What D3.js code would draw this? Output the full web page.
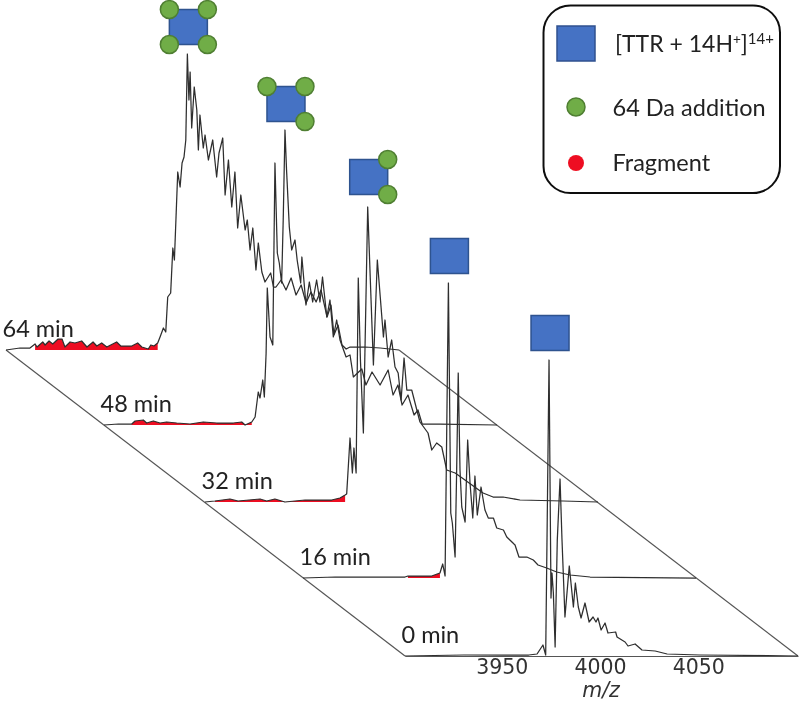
<!DOCTYPE html>
<html>
<head>
<meta charset="utf-8">
<script src="https://cdn.jsdelivr.net/npm/d3@7"></script>
<style>
  html, body { margin: 0; padding: 0; background: #fff; }
  svg { display: block; }
</style>
</head>
<body>
<div id="chart"></div>
<script>
// spectra as [m/z, intensity], intensity in arbitrary units
const times = [0, 16, 32, 48, 64];
const tickLabels = [3950, 4000, 4050];

const spectrum0 = [[3900,0],[3930,1],[3950,1],[3963,1],[3967.2,2],[3970.2,11],[3971.6,1],[3973.3,296],[3974.3,58],[3974.8,83],[3975.5,63],[3976.4,9],[3977.5,116],[3978.9,177],[3979.9,116],[3981.4,39],[3983.6,90],[3985.7,49],[3986.7,73],[3988.2,49],[3989.6,38],[3991.6,53],[3993.7,34],[3995.7,39],[3997.2,34],[3998.2,38],[3999.8,26],[4001.8,33],[4003.3,23],[4007.2,24],[4007.9,19],[4012,14],[4013.5,10],[4017.1,12],[4020.6,6],[4027.3,5],[4033.4,2],[4050.2,1],[4100,0]];

const spectrum16 = [[3900,0],[3916.3,1],[3946.8,1],[3951.9,1],[3953.4,2],[3960.4,2],[3965.5,2],[3969.7,5],[3971.1,14],[3972.3,2],[3974,295],[3975.2,65],[3976,55],[3977.4,21],[3978.2,108],[3979,205],[3979.9,108],[3980.8,71],[3982.5,56],[3983.8,138],[3985,95],[3986.4,60],[3987.5,102],[3988.7,63],[3990.6,91],[3992.6,68],[3994.3,60],[3996.9,60],[3998.6,50],[4002,48],[4003.7,41],[4007.9,33],[4009.9,21],[4013.9,21],[4017.2,18],[4019.6,13],[4024,10],[4029.1,6],[4035.9,3],[4046.1,1],[4100,0]];

const spectrum32 = [[3900,0],[3905,1],[3912.7,3],[3916.8,1],[3928,3],[3931.4,1],[3935.6,3],[3940.7,0],[3950.9,2],[3959.4,2],[3964.5,2],[3968.7,4],[3971.3,7],[3972.1,8],[3973.8,64],[3975,29],[3975.8,54],[3976.9,29],[3978,224],[3979.1,142],[3980.6,69],[3982.8,295],[3985.7,137],[3987.7,242],[3990.8,165],[3991.6,182],[3993.2,145],[3995,162],[3996.7,135],[3998.3,129],[3999.8,102],[4001.3,144],[4002.7,112],[4005.2,112],[4007.8,92],[4009.4,80],[4013.5,69],[4015.4,52],[4017.9,59],[4020.5,55],[4023,32],[4027.3,29],[4032.3,22],[4041.5,9],[4046.6,5],[4051.7,5],[4060.3,2],[4082.2,1],[4100,0]];

const spectrum48 = [[3900,0],[3907.3,1],[3914.1,1],[3915.8,4],[3920,5],[3921.7,2],[3925.1,4],[3928.5,2],[3931.9,3],[3937,2],[3943.8,1],[3950.5,3],[3957.4,2],[3965.8,2],[3970.1,3],[3971.8,0],[3975.2,3],[3976.9,8],[3978.5,33],[3979.4,27],[3980.8,45],[3981.6,28],[3982.5,72],[3983.1,137],[3984.5,88],[3985.9,80],[3987,262],[3988.2,172],[3989.2,162],[3990.4,142],[3991.2,205],[3992.1,295],[3992.9,255],[3994.3,198],[3995.5,175],[3997.2,185],[3998.3,165],[4000.1,142],[4000.7,168],[4002.8,120],[4004.5,143],[4006.2,123],[4008.2,145],[4009.9,123],[4011.2,148],[4013.4,108],[4015,125],[4016.7,88],[4018.4,105],[4020.1,85],[4023.2,68],[4025.2,70],[4026.9,48],[4031.2,56],[4033.3,40],[4036.4,53],[4040.5,40],[4044.6,55],[4047.1,30],[4049.6,40],[4051.7,20],[4054.7,30],[4057.8,10],[4059.8,15],[4061.9,1],[4071,1],[4100,0]];

const spectrum64 = [[3900,0],[3907.1,2],[3912.2,2],[3914.8,6],[3915.8,3],[3918.7,8],[3919.9,5],[3921.9,9],[3923.8,6],[3926.5,11],[3928.5,11],[3930,3],[3932.6,8],[3935.1,7],[3938.5,9],[3941.2,3],[3944.3,8],[3946.2,4],[3948.7,7],[3951.3,3],[3956.3,8],[3958.4,4],[3964,4],[3967,7],[3969.1,3],[3972.4,1],[3973.7,5],[3975.3,4],[3977.2,7],[3978.4,13],[3980.1,22],[3981.3,18],[3982.3,53],[3983.8,57],[3984.9,102],[3985.7,90],[3987.4,178],[3988.6,163],[3989.6,187],[3990.6,193],[3991.5,210],[3992.3,296],[3993.1,250],[3993.7,278],[3994.5,222],[3995.8,263],[3997.1,240],[3997.9,200],[3998.7,235],[4000.4,202],[4001.3,215],[4003,190],[4005.2,210],[4007.2,173],[4008.4,197],[4010.3,212],[4011.5,155],[4013.2,190],[4014.9,143],[4016.5,178],[4017.9,122],[4019.5,155],[4021.7,120],[4022.8,130],[4024.2,100],[4025.6,122],[4027.2,80],[4028.4,107],[4030.2,78],[4031.8,68],[4034.7,77],[4036.1,63],[4037.4,63],[4040,70],[4042.5,60],[4045.1,72],[4047.6,55],[4050.2,65],[4052.7,47],[4055.2,58],[4057.8,48],[4060.3,60],[4063.4,33],[4065.4,45],[4066.9,15],[4069,25],[4071,5],[4073.1,1],[4075.1,3],[4082.7,3],[4090.4,2],[4100,0]];

const spectra = [spectrum0, spectrum16, spectrum32, spectrum48, spectrum64];

// m/z window of the red fragment fill, per time point
const fragmentStart = [null, 3952, 3905, 3914, 3913];
const fragmentEnd = [null, 3970, 3972, 3975.5, 3977.2];

// which corners of the square carry a 64 Da circle, per time point
const additions = [[], [], ['tr', 'br'], ['tl', 'tr', 'br'], ['tl', 'tr', 'bl', 'br']];

const width = 800, height = 702;

const svg = d3.select('#chart').append('svg')
  .attr('width', width)
  .attr('height', height);

svg.append('defs').append('filter')
  .attr('id', 'soft')
  .attr('filterUnits', 'userSpaceOnUse')
  .attr('x', 0)
  .attr('y', 0)
  .attr('width', width)
  .attr('height', height)
  .append('feGaussianBlur')
  .attr('stdDeviation', 0.4);

// the reference is a slightly soft raster, so everything goes through one blur
const root = svg.append('g').attr('filter', 'url(#soft)');

// each time point has its own sheared origin
const originX = d3.scaleLinear().domain(times).range([405, 303, 205, 104, 6]);
const originY = d3.scaleLinear().domain(times).range([656, 578, 502, 425, 350]);
const mzScale = d3.scaleLinear().domain([3900, 4100]).range([0, 393]);
const intScale = d3.scaleLinear().domain([0, 296]).range([0, -296]);

const px = (t, mz) => originX(t) + mzScale(mz);
const py = (t, v) => originY(t) + intScale(v);

// frame
const frame = root.append('g')
  .attr('fill', 'none')
  .attr('stroke', '#555')
  .attr('stroke-width', 1.2);

[3900, 4100].forEach(mz => {
  frame.append('line')
    .attr('x1', px(64, mz))
    .attr('y1', py(64, 0))
    .attr('x2', px(0, mz))
    .attr('y2', py(0, 0));
});

// spectra, back to front
const traces = root.append('g');

d3.range(times.length - 1, -1, -1).forEach(i => {
  const t = times[i];
  const spectrum = spectra[i];

  if (fragmentStart[i] !== null) {
    const area = d3.area()
      .x(d => px(t, d[0]))
      .y0(py(t, 0))
      .y1(d => py(t, d[1]));
    traces.append('path')
      .datum(spectrum.filter(d => d[0] >= fragmentStart[i] && d[0] <= fragmentEnd[i]))
      .attr('fill', '#ee1122')
      .attr('d', area);
  }

  const line = d3.line()
    .x(d => px(t, d[0]))
    .y(d => py(t, d[1]));
  traces.append('path')
    .datum(spectrum)
    .attr('fill', 'none')
    .attr('stroke', '#2e2e2e')
    .attr('stroke-width', 1.25)
    .attr('stroke-linejoin', 'round')
    .attr('d', line);
});

// m/z axis sits on the 0 min trace
const axis = root.append('g')
  .attr('transform', 'translate(' + originX(0) + ',' + originY(0) + ')')
  .call(d3.axisBottom(mzScale).tickValues(tickLabels).tickSize(0).tickPadding(3).tickFormat(d3.format('d')));

axis.select('.domain')
  .attr('stroke', '#555')
  .attr('stroke-width', 1.2);

axis.selectAll('text')
  .attr('dx', -1.5)
  .attr('fill', '#333')
  .style('font-family', 'DejaVu Sans')
  .style('font-size', '20.5px');

root.append('text')
  .attr('x', 601)
  .attr('y', 697)
  .attr('text-anchor', 'middle')
  .attr('fill', '#333')
  .style('font-family', 'DejaVu Sans')
  .style('font-style', 'italic')
  .style('font-size', '20.5px')
  .text('m/z');

// time labels
const labelFont = 'Lato, "Open Sans", sans-serif';

root.append('g').selectAll('text')
  .data(times)
  .join('text')
  .attr('x', d => originX(d) - 3.5)
  .attr('y', d => originY(d) - 13)
  .attr('fill', '#222')
  .style('font-family', labelFont)
  .style('font-size', '23.5px')
  .text(d => d + ' min');

// glyphs above each apex
const blue = '#4472c4', blueEdge = '#2f528f', green = '#70ad47', greenEdge = '#4f7f32';
const squareW = 38, squareH = 35, circleR = 9;
const glyphGap = [27, 27, 30, 26, 27];

const glyphs = root.append('g');

times.forEach((t, i) => {
  const apex = spectra[i].reduce((a, b) => (b[1] > a[1] ? b : a));
  const cx = px(t, apex[0]) + 1;
  const cy = py(t, apex[1]) - glyphGap[i];

  glyphs.append('rect')
    .attr('x', cx - squareW / 2)
    .attr('y', cy - squareH / 2)
    .attr('width', squareW)
    .attr('height', squareH)
    .attr('fill', blue)
    .attr('stroke', blueEdge)
    .attr('stroke-width', 1.5);

  glyphs.selectAll(null)
    .data(additions[i])
    .join('circle')
    .attr('cx', d => cx + (d[1] === 'l' ? -squareW / 2 : squareW / 2))
    .attr('cy', d => cy + (d[0] === 't' ? -squareH / 2 : squareH / 2))
    .attr('r', circleR)
    .attr('fill', green)
    .attr('stroke', greenEdge)
    .attr('stroke-width', 1.5);
});

// legend
const legend = root.append('g');

legend.append('rect')
  .attr('x', 543.5)
  .attr('y', 5.5)
  .attr('width', 236.5)
  .attr('height', 187.5)
  .attr('rx', 27)
  .attr('fill', '#fff')
  .attr('stroke', '#111')
  .attr('stroke-width', 2);

legend.append('rect')
  .attr('x', 557)
  .attr('y', 26)
  .attr('width', squareW)
  .attr('height', squareH)
  .attr('fill', blue)
  .attr('stroke', blueEdge)
  .attr('stroke-width', 1.5);

legend.append('circle')
  .attr('cx', 576)
  .attr('cy', 107)
  .attr('r', circleR)
  .attr('fill', green)
  .attr('stroke', greenEdge)
  .attr('stroke-width', 1.5);

legend.append('circle')
  .attr('cx', 576)
  .attr('cy', 163)
  .attr('r', 8)
  .attr('fill', '#ee1122');

const ionLabel = legend.append('text')
  .attr('x', 615)
  .attr('y', 52)
  .attr('fill', '#222')
  .style('font-family', labelFont)
  .style('font-size', '23px');

ionLabel.append('tspan').text('[TTR + 14H');
ionLabel.append('tspan').attr('dy', -8).style('font-size', '13.5px').text('+');
ionLabel.append('tspan').attr('dy', 8).text(']');
ionLabel.append('tspan').attr('dy', -8).style('font-size', '15px').text('14+');

legend.append('text')
  .attr('x', 612.5)
  .attr('y', 116)
  .attr('fill', '#222')
  .style('font-family', labelFont)
  .style('font-size', '23.5px')
  .text('64 Da addition');

legend.append('text')
  .attr('x', 612.5)
  .attr('y', 171)
  .attr('fill', '#222')
  .style('font-family', labelFont)
  .style('font-size', '23.5px')
  .text('Fragment');
</script>
</body>
</html>
